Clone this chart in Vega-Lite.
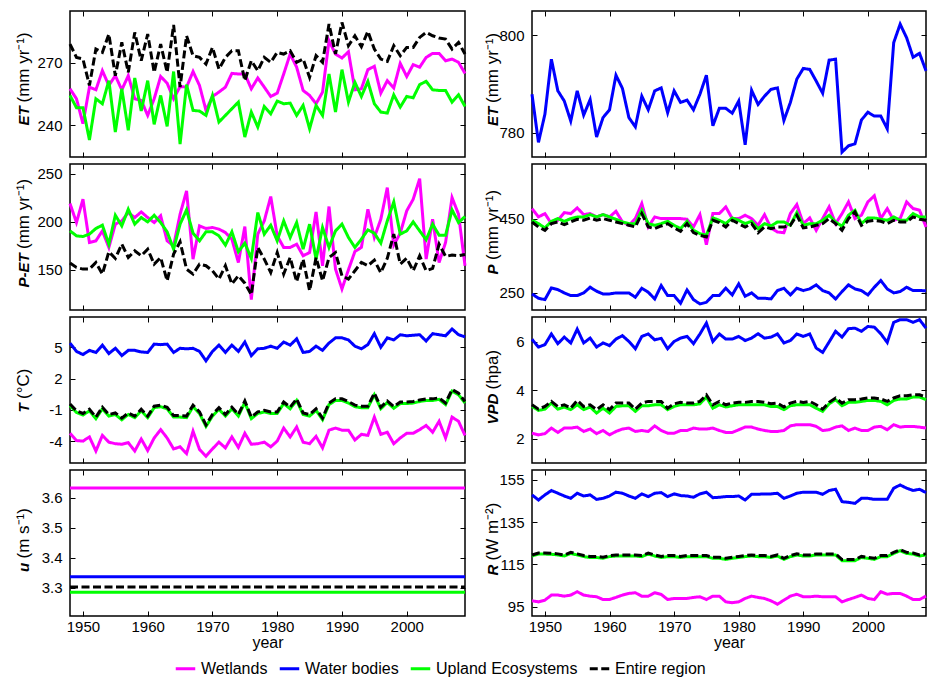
{
"$schema": "https://vega.github.io/schema/vega-lite/v6.json",
"background": "white",
"padding": {"left": 13, "top": 9, "right": 1, "bottom": 0},
"columns": 2,
"spacing": {"row": 7, "column": 67},
"bounds": "flush",
"align": "each",
"config": {
  "font": "Liberation Sans",
  "view": {"stroke": "#000", "strokeWidth": 1.5},
  "line": {"strokeWidth": 3},
  "axis": {"grid": false, "domain": false, "tickSize": -5, "tickColor": "#000", "tickWidth": 1, "labelFontSize": 15, "labelColor": "#000", "labelPadding": 13, "titleFontSize": 17, "titleFontWeight": "normal", "titleColor": "#000", "titleAngle": 270, "titleAlign": "left", "titleBaseline": "alphabetic"},
  "axisX": {"labelPadding": 8, "titleAngle": 0, "titleAlign": "center", "titleBaseline": "top", "titlePadding": 0, "titleFontSize": 16}
},
"datasets": {
"ET": [
{"year":1948,"W":257.6,"U":254.4,"E":279.1,"B":787.9},
{"year":1949,"W":252.8,"U":248.5,"E":272.7,"B":778.0},
{"year":1950,"W":240.8,"U":248.5,"E":271.9,"B":783.8},
{"year":1951,"W":258.4,"U":233.0,"E":259.2,"B":795.1},
{"year":1952,"W":257.1,"U":252.8,"E":276.7,"B":788.6},
{"year":1953,"W":266.3,"U":250.4,"E":275.1,"B":786.5},
{"year":1954,"W":259.2,"U":261.5,"E":283.9,"B":782.4},
{"year":1955,"W":263.9,"U":236.8,"E":263.9,"B":788.6},
{"year":1956,"W":257.1,"U":257.6,"E":279.9,"B":783.6},
{"year":1957,"W":263.9,"U":237.6,"E":265.5,"B":786.8},
{"year":1958,"W":252.8,"U":262.8,"E":284.7,"B":779.1},
{"year":1959,"W":252.0,"U":246.9,"E":271.1,"B":783.1},
{"year":1960,"W":244.8,"U":261.5,"E":283.9,"B":784.7},
{"year":1961,"W":252.8,"U":240.5,"E":265.5,"B":791.8},
{"year":1962,"W":263.5,"U":254.4,"E":279.1,"B":789.1},
{"year":1963,"W":260.3,"U":239.5,"E":265.5,"B":783.1},
{"year":1964,"W":252.8,"U":265.9,"E":288.3,"B":781.2},
{"year":1965,"W":258.7,"U":231.0,"E":258.4,"B":787.5},
{"year":1966,"W":258.4,"U":259.6,"E":283.1,"B":784.7},
{"year":1967,"W":265.9,"U":247.2,"E":273.5,"B":788.6},
{"year":1968,"W":259.2,"U":246.9,"E":272.7,"B":789.2},
{"year":1969,"W":247.2,"U":244.8,"E":269.5,"B":784.1},
{"year":1970,"W":253.9,"U":254.4,"E":277.5,"B":788.6},
{"year":1971,"W":256.0,"U":241.6,"E":267.1,"B":786.2},
{"year":1972,"W":258.4,"U":244.8,"E":272.7,"B":786.7},
{"year":1973,"W":265.0,"U":248.0,"E":275.9,"B":784.7},
{"year":1974,"W":264.7,"U":251.2,"E":275.9,"B":787.9},
{"year":1975,"W":264.7,"U":234.4,"E":261.5,"B":791.8},
{"year":1976,"W":257.6,"U":246.4,"E":271.1,"B":781.4},
{"year":1977,"W":262.8,"U":239.2,"E":266.3,"B":785.0},
{"year":1978,"W":258.4,"U":249.1,"E":272.7,"B":785.0},
{"year":1979,"W":253.9,"U":245.6,"E":270.3,"B":784.0},
{"year":1980,"W":255.5,"U":251.7,"E":275.1,"B":786.5},
{"year":1981,"W":264.7,"U":250.4,"E":274.3,"B":777.5},
{"year":1982,"W":274.3,"U":250.7,"E":275.9,"B":788.7},
{"year":1983,"W":268.0,"U":244.8,"E":270.3,"B":785.8},
{"year":1984,"W":256.8,"U":249.6,"E":271.9,"B":787.5},
{"year":1985,"W":254.4,"U":238.4,"E":263.1,"B":788.9},
{"year":1986,"W":250.4,"U":249.6,"E":273.5,"B":789.2},
{"year":1987,"W":256.0,"U":244.8,"E":270.3,"B":782.5},
{"year":1988,"W":280.7,"U":264.7,"E":288.7,"B":786.2},
{"year":1989,"W":274.3,"U":246.4,"E":274.3,"B":791.0},
{"year":1990,"W":272.4,"U":266.8,"E":289.5,"B":793.2},
{"year":1991,"W":275.4,"U":251.2,"E":278.3,"B":793.0},
{"year":1992,"W":257.1,"U":260.7,"E":283.1,"B":790.6},
{"year":1993,"W":257.6,"U":253.9,"E":277.8,"B":788.1},
{"year":1994,"W":266.8,"U":261.1,"E":285.2,"B":794.9},
{"year":1995,"W":268.4,"U":250.4,"E":276.7,"B":795.1},
{"year":1996,"W":255.5,"U":246.4,"E":271.9,"B":776.0},
{"year":1997,"W":261.5,"U":245.9,"E":270.8,"B":777.3},
{"year":1998,"W":258.0,"U":254.7,"E":278.3,"B":777.7},
{"year":1999,"W":269.8,"U":248.8,"E":273.5,"B":782.6},
{"year":2000,"W":263.5,"U":253.9,"E":277.5,"B":784.2},
{"year":2001,"W":269.2,"U":253.3,"E":277.5,"B":783.4},
{"year":2002,"W":268.0,"U":259.6,"E":282.3,"B":783.4},
{"year":2003,"W":272.7,"U":261.2,"E":284.7,"B":780.8},
{"year":2004,"W":274.6,"U":257.1,"E":283.1,"B":798.5},
{"year":2005,"W":274.6,"U":256.8,"E":282.0,"B":802.3},
{"year":2006,"W":271.1,"U":256.8,"E":281.5,"B":799.5},
{"year":2007,"W":271.9,"U":251.2,"E":276.7,"B":795.5},
{"year":2008,"W":270.3,"U":254.7,"E":279.9,"B":796.3},
{"year":2009,"W":265.0,"U":249.1,"E":274.3,"B":792.7}
],
"PET": [
{"year":1948,"W":219.1,"U":190.6,"E":157.0},
{"year":1949,"W":199.3,"U":185.4,"E":152.4},
{"year":1950,"W":223.6,"U":184.7,"E":150.7},
{"year":1951,"W":178.5,"U":187.2,"E":150.7},
{"year":1952,"W":180.2,"U":193.1,"E":157.6},
{"year":1953,"W":190.6,"U":196.5,"E":145.5},
{"year":1954,"W":173.3,"U":176.7,"E":168.8},
{"year":1955,"W":197.6,"U":206.9,"E":161.8},
{"year":1956,"W":201.0,"U":195.8,"E":176.7},
{"year":1957,"W":209.7,"U":213.2,"E":162.8},
{"year":1958,"W":204.5,"U":197.6,"E":169.8},
{"year":1959,"W":210.4,"U":204.5,"E":164.6},
{"year":1960,"W":204.5,"U":200.0,"E":171.5},
{"year":1961,"W":199.3,"U":206.9,"E":155.9},
{"year":1962,"W":206.3,"U":199.3,"E":162.8},
{"year":1963,"W":180.2,"U":189.6,"E":138.5},
{"year":1964,"W":175.0,"U":171.5,"E":166.3},
{"year":1965,"W":208.0,"U":197.6,"E":179.2},
{"year":1966,"W":232.3,"U":212.5,"E":150.7},
{"year":1967,"W":161.1,"U":188.2,"E":145.5},
{"year":1968,"W":195.8,"U":180.2,"E":155.9},
{"year":1969,"W":193.1,"U":189.6,"E":154.2},
{"year":1970,"W":194.1,"U":189.6,"E":149.0},
{"year":1971,"W":192.4,"U":185.4,"E":140.3},
{"year":1972,"W":188.9,"U":175.7,"E":154.2},
{"year":1973,"W":181.9,"U":189.6,"E":135.1},
{"year":1974,"W":157.6,"U":168.8,"E":143.8},
{"year":1975,"W":195.1,"U":177.8,"E":136.0},
{"year":1976,"W":118.8,"U":161.8,"E":124.0},
{"year":1977,"W":187.2,"U":209.7,"E":173.3},
{"year":1978,"W":201.0,"U":187.2,"E":161.1},
{"year":1979,"W":226.4,"U":196.5,"E":147.2},
{"year":1980,"W":185.4,"U":180.2,"E":168.0},
{"year":1981,"W":173.3,"U":201.0,"E":145.5},
{"year":1982,"W":173.3,"U":183.7,"E":162.8},
{"year":1983,"W":176.7,"U":199.3,"E":137.5},
{"year":1984,"W":164.6,"U":171.5,"E":161.1},
{"year":1985,"W":168.0,"U":197.6,"E":128.1},
{"year":1986,"W":210.4,"U":161.1,"E":162.8},
{"year":1987,"W":154.2,"U":194.1,"E":138.5},
{"year":1988,"W":216.0,"U":173.3,"E":162.8},
{"year":1989,"W":150.7,"U":190.6,"E":168.0},
{"year":1990,"W":130.0,"U":197.6,"E":143.8},
{"year":1991,"W":150.0,"U":183.7,"E":140.3},
{"year":1992,"W":169.1,"U":173.3,"E":149.0},
{"year":1993,"W":173.3,"U":181.9,"E":157.6},
{"year":1994,"W":213.2,"U":191.7,"E":154.2},
{"year":1995,"W":183.7,"U":188.2,"E":160.0},
{"year":1996,"W":202.8,"U":177.8,"E":147.0},
{"year":1997,"W":235.8,"U":201.0,"E":162.0},
{"year":1998,"W":175.7,"U":220.8,"E":187.2},
{"year":1999,"W":188.2,"U":187.2,"E":156.0},
{"year":2000,"W":211.5,"U":190.6,"E":162.0},
{"year":2001,"W":223.6,"U":200.0,"E":149.0},
{"year":2002,"W":245.1,"U":190.6,"E":164.6},
{"year":2003,"W":161.1,"U":181.3,"E":149.0},
{"year":2004,"W":202.8,"U":197.6,"E":151.4},
{"year":2005,"W":157.6,"U":186.1,"E":176.7},
{"year":2006,"W":178.5,"U":186.1,"E":163.9},
{"year":2007,"W":225.3,"U":212.5,"E":165.3},
{"year":2008,"W":208.0,"U":199.3,"E":164.6},
{"year":2009,"W":154.2,"U":205.6,"E":166.0}
],
"P": [
{"year":1948,"W":477.0,"B":247.3,"U":445.5,"E":441.0},
{"year":1949,"W":454.5,"B":235.6,"U":436.5,"E":427.5},
{"year":1950,"W":463.5,"B":232.0,"U":424.8,"E":418.5},
{"year":1951,"W":436.5,"B":263.5,"U":442.8,"E":436.5},
{"year":1952,"W":445.5,"B":259.0,"U":450.0,"E":441.0},
{"year":1953,"W":466.2,"B":250.0,"U":442.8,"E":433.8},
{"year":1954,"W":463.5,"B":242.8,"U":450.0,"E":441.0},
{"year":1955,"W":478.8,"B":242.8,"U":454.5,"E":448.2},
{"year":1956,"W":460.8,"B":250.0,"U":454.5,"E":445.5},
{"year":1957,"W":463.5,"B":265.3,"U":460.8,"E":451.8},
{"year":1958,"W":454.5,"B":254.5,"U":454.5,"E":445.5},
{"year":1959,"W":460.8,"B":247.3,"U":460.8,"E":450.0},
{"year":1960,"W":454.5,"B":247.3,"U":454.5,"E":445.5},
{"year":1961,"W":469.8,"B":250.0,"U":448.2,"E":441.0},
{"year":1962,"W":441.0,"B":250.0,"U":441.0,"E":436.5},
{"year":1963,"W":432.0,"B":250.0,"U":436.5,"E":432.0},
{"year":1964,"W":450.0,"B":238.3,"U":436.5,"E":427.5},
{"year":1965,"W":490.5,"B":262.6,"U":472.5,"E":463.5},
{"year":1966,"W":427.5,"B":251.8,"U":436.5,"E":427.5},
{"year":1967,"W":454.5,"B":233.8,"U":432.0,"E":423.0},
{"year":1968,"W":450.0,"B":269.8,"U":436.5,"E":430.2},
{"year":1969,"W":450.0,"B":242.8,"U":442.8,"E":436.5},
{"year":1970,"W":450.0,"B":242.8,"U":432.0,"E":424.8},
{"year":1971,"W":450.0,"B":222.1,"U":423.0,"E":415.8},
{"year":1972,"W":448.2,"B":258.1,"U":442.8,"E":436.5},
{"year":1973,"W":427.5,"B":232.0,"U":418.5,"E":412.2},
{"year":1974,"W":460.8,"B":220.3,"U":409.5,"E":405.0},
{"year":1975,"W":379.7,"B":224.8,"U":405.0,"E":400.5},
{"year":1976,"W":463.5,"B":242.8,"U":451.8,"E":445.5},
{"year":1977,"W":463.5,"B":242.8,"U":445.5,"E":439.2},
{"year":1978,"W":481.5,"B":262.6,"U":436.5,"E":427.5},
{"year":1979,"W":450.0,"B":244.6,"U":451.8,"E":445.5},
{"year":1980,"W":450.0,"B":274.3,"U":445.5,"E":436.5},
{"year":1981,"W":459.0,"B":241.0,"U":436.5,"E":427.5},
{"year":1982,"W":450.0,"B":250.0,"U":442.8,"E":436.5},
{"year":1983,"W":432.0,"B":235.6,"U":423.0,"E":412.2},
{"year":1984,"W":460.8,"B":235.6,"U":436.5,"E":427.5},
{"year":1985,"W":424.8,"B":233.8,"U":430.2,"E":423.0},
{"year":1986,"W":414.0,"B":256.3,"U":441.0,"E":427.5},
{"year":1987,"W":412.0,"B":262.6,"U":441.0,"E":427.5},
{"year":1988,"W":463.5,"B":244.6,"U":432.0,"E":432.0},
{"year":1989,"W":487.8,"B":262.6,"U":466.2,"E":459.0},
{"year":1990,"W":436.5,"B":256.3,"U":432.0,"E":424.8},
{"year":1991,"W":451.8,"B":260.8,"U":436.5,"E":427.5},
{"year":1992,"W":418.5,"B":271.6,"U":436.5,"E":432.0},
{"year":1993,"W":450.0,"B":256.3,"U":445.5,"E":436.5},
{"year":1994,"W":481.5,"B":250.0,"U":459.0,"E":450.0},
{"year":1995,"W":436.5,"B":233.8,"U":441.0,"E":436.5},
{"year":1996,"W":463.5,"B":253.6,"U":429.3,"E":418.5},
{"year":1997,"W":495.0,"B":271.6,"U":459.0,"E":450.0},
{"year":1998,"W":450.0,"B":260.8,"U":472.5,"E":468.0},
{"year":1999,"W":459.0,"B":256.3,"U":436.5,"E":432.0},
{"year":2000,"W":495.0,"B":244.6,"U":451.8,"E":442.8},
{"year":2001,"W":511.3,"B":265.3,"U":451.8,"E":445.5},
{"year":2002,"W":450.0,"B":283.3,"U":448.2,"E":442.8},
{"year":2003,"W":477.0,"B":260.8,"U":445.5,"E":436.5},
{"year":2004,"W":445.5,"B":250.0,"U":454.5,"E":445.5},
{"year":2005,"W":450.0,"B":253.6,"U":445.5,"E":441.0},
{"year":2006,"W":495.0,"B":265.3,"U":445.5,"E":441.0},
{"year":2007,"W":477.0,"B":256.3,"U":463.5,"E":454.5},
{"year":2008,"W":472.5,"B":256.3,"U":454.5,"E":448.2},
{"year":2009,"W":427.5,"B":256.0,"U":454.5,"E":445.5}
],
"T": [
{"year":1948,"W":-3.25,"B":5.4,"U":-0.6,"E":-0.45},
{"year":1949,"W":-3.95,"B":4.6,"U":-1.25,"E":-1.1},
{"year":1950,"W":-4.0,"B":4.3,"U":-1.5,"E":-1.35},
{"year":1951,"W":-3.6,"B":4.7,"U":-1.1,"E":-0.95},
{"year":1952,"W":-4.95,"B":4.5,"U":-1.85,"E":-1.7},
{"year":1953,"W":-3.45,"B":5.2,"U":-0.9,"E":-0.75},
{"year":1954,"W":-4.1,"B":4.4,"U":-1.6,"E":-1.45},
{"year":1955,"W":-4.25,"B":4.9,"U":-1.45,"E":-1.3},
{"year":1956,"W":-4.3,"B":4.2,"U":-1.95,"E":-1.8},
{"year":1957,"W":-4.15,"B":4.7,"U":-1.45,"E":-1.3},
{"year":1958,"W":-4.95,"B":4.7,"U":-1.75,"E":-1.6},
{"year":1959,"W":-3.8,"B":4.55,"U":-1.1,"E":-0.95},
{"year":1960,"W":-4.9,"B":4.5,"U":-1.75,"E":-1.6},
{"year":1961,"W":-3.7,"B":5.3,"U":-0.8,"E":-0.65},
{"year":1962,"W":-2.9,"B":5.25,"U":-0.7,"E":-0.55},
{"year":1963,"W":-3.7,"B":5.3,"U":-0.9,"E":-0.75},
{"year":1964,"W":-4.75,"B":4.5,"U":-1.7,"E":-1.55},
{"year":1965,"W":-4.55,"B":4.9,"U":-1.7,"E":-1.55},
{"year":1966,"W":-5.2,"B":4.85,"U":-1.75,"E":-1.6},
{"year":1967,"W":-3.05,"B":4.9,"U":-0.7,"E":-0.55},
{"year":1968,"W":-4.8,"B":4.6,"U":-1.35,"E":-1.2},
{"year":1969,"W":-5.45,"B":3.7,"U":-2.6,"E":-2.45},
{"year":1970,"W":-4.75,"B":4.6,"U":-1.6,"E":-1.45},
{"year":1971,"W":-4.1,"B":5.2,"U":-0.95,"E":-0.8},
{"year":1972,"W":-4.65,"B":4.5,"U":-1.6,"E":-1.45},
{"year":1973,"W":-3.6,"B":5.2,"U":-0.9,"E":-0.75},
{"year":1974,"W":-4.6,"B":4.6,"U":-1.6,"E":-1.45},
{"year":1975,"W":-3.25,"B":5.5,"U":-0.3,"E":-0.15},
{"year":1976,"W":-4.3,"B":4.2,"U":-1.85,"E":-1.7},
{"year":1977,"W":-4.25,"B":4.85,"U":-1.35,"E":-1.2},
{"year":1978,"W":-4.1,"B":4.9,"U":-1.2,"E":-1.05},
{"year":1979,"W":-4.55,"B":5.1,"U":-1.35,"E":-1.2},
{"year":1980,"W":-4.0,"B":4.9,"U":-1.35,"E":-1.2},
{"year":1981,"W":-2.75,"B":5.5,"U":-0.4,"E":-0.25},
{"year":1982,"W":-3.6,"B":5.2,"U":-0.9,"E":-0.75},
{"year":1983,"W":-2.65,"B":5.8,"U":-0.1,"E":0.05},
{"year":1984,"W":-4.1,"B":4.5,"U":-1.45,"E":-1.3},
{"year":1985,"W":-4.25,"B":4.6,"U":-1.6,"E":-1.45},
{"year":1986,"W":-3.55,"B":5.1,"U":-1.05,"E":-0.9},
{"year":1987,"W":-4.65,"B":4.7,"U":-1.95,"E":-1.8},
{"year":1988,"W":-2.95,"B":5.4,"U":-0.5,"E":-0.35},
{"year":1989,"W":-2.75,"B":5.9,"U":-0.1,"E":0.05},
{"year":1990,"W":-2.95,"B":5.9,"U":-0.1,"E":0.05},
{"year":1991,"W":-2.95,"B":5.7,"U":-0.35,"E":-0.2},
{"year":1992,"W":-3.9,"B":5.1,"U":-0.7,"E":-0.55},
{"year":1993,"W":-3.35,"B":4.85,"U":-0.8,"E":-0.65},
{"year":1994,"W":-3.45,"B":5.25,"U":-0.8,"E":-0.65},
{"year":1995,"W":-1.7,"B":6.3,"U":0.45,"E":0.6},
{"year":1996,"W":-3.35,"B":5.0,"U":-0.9,"E":-0.75},
{"year":1997,"W":-3.15,"B":5.9,"U":-0.3,"E":-0.15},
{"year":1998,"W":-4.25,"B":5.7,"U":-0.85,"E":-0.7},
{"year":1999,"W":-3.7,"B":6.2,"U":-0.4,"E":-0.25},
{"year":2000,"W":-3.25,"B":6.1,"U":-0.4,"E":-0.25},
{"year":2001,"W":-3.25,"B":6.15,"U":-0.35,"E":-0.2},
{"year":2002,"W":-2.9,"B":6.2,"U":-0.2,"E":-0.05},
{"year":2003,"W":-2.5,"B":5.6,"U":-0.1,"E":0.05},
{"year":2004,"W":-3.15,"B":6.3,"U":-0.1,"E":0.05},
{"year":2005,"W":-2.1,"B":6.2,"U":0.0,"E":0.15},
{"year":2006,"W":-3.7,"B":6.1,"U":-0.5,"E":-0.35},
{"year":2007,"W":-1.7,"B":6.75,"U":0.8,"E":0.95},
{"year":2008,"W":-2.1,"B":6.2,"U":0.45,"E":0.6},
{"year":2009,"W":-3.45,"B":6.0,"U":-0.35,"E":-0.2}
],
"VPD": [
{"year":1948,"W":2.23,"B":6.1,"U":3.33,"E":3.4},
{"year":1949,"W":2.16,"B":5.78,"U":3.17,"E":3.22},
{"year":1950,"W":2.21,"B":5.88,"U":3.22,"E":3.33},
{"year":1951,"W":2.44,"B":6.32,"U":3.47,"E":3.54},
{"year":1952,"W":2.26,"B":5.92,"U":3.22,"E":3.33},
{"year":1953,"W":2.44,"B":6.19,"U":3.31,"E":3.4},
{"year":1954,"W":2.44,"B":5.95,"U":3.2,"E":3.26},
{"year":1955,"W":2.48,"B":6.52,"U":3.4,"E":3.58},
{"year":1956,"W":2.3,"B":5.95,"U":3.2,"E":3.33},
{"year":1957,"W":2.4,"B":6.15,"U":3.31,"E":3.4},
{"year":1958,"W":2.21,"B":5.78,"U":3.06,"E":3.2},
{"year":1959,"W":2.34,"B":5.95,"U":3.26,"E":3.4},
{"year":1960,"W":2.16,"B":5.84,"U":3.06,"E":3.2},
{"year":1961,"W":2.3,"B":6.11,"U":3.33,"E":3.47},
{"year":1962,"W":2.4,"B":6.25,"U":3.36,"E":3.47},
{"year":1963,"W":2.44,"B":6.01,"U":3.36,"E":3.47},
{"year":1964,"W":2.3,"B":5.71,"U":3.13,"E":3.22},
{"year":1965,"W":2.34,"B":6.22,"U":3.36,"E":3.47},
{"year":1966,"W":2.3,"B":6.32,"U":3.36,"E":3.54},
{"year":1967,"W":2.53,"B":6.08,"U":3.4,"E":3.54},
{"year":1968,"W":2.34,"B":6.14,"U":3.4,"E":3.54},
{"year":1969,"W":2.23,"B":5.71,"U":3.2,"E":3.26},
{"year":1970,"W":2.23,"B":6.01,"U":3.33,"E":3.44},
{"year":1971,"W":2.34,"B":6.15,"U":3.4,"E":3.5},
{"year":1972,"W":2.34,"B":6.22,"U":3.4,"E":3.47},
{"year":1973,"W":2.44,"B":5.92,"U":3.4,"E":3.47},
{"year":1974,"W":2.4,"B":6.32,"U":3.44,"E":3.54},
{"year":1975,"W":2.4,"B":6.77,"U":3.72,"E":3.81},
{"year":1976,"W":2.44,"B":6.01,"U":3.26,"E":3.4},
{"year":1977,"W":2.34,"B":6.32,"U":3.4,"E":3.54},
{"year":1978,"W":2.26,"B":6.11,"U":3.31,"E":3.4},
{"year":1979,"W":2.26,"B":6.11,"U":3.36,"E":3.47},
{"year":1980,"W":2.37,"B":6.22,"U":3.4,"E":3.5},
{"year":1981,"W":2.48,"B":6.05,"U":3.4,"E":3.5},
{"year":1982,"W":2.48,"B":6.15,"U":3.4,"E":3.54},
{"year":1983,"W":2.4,"B":6.33,"U":3.4,"E":3.54},
{"year":1984,"W":2.34,"B":6.15,"U":3.4,"E":3.5},
{"year":1985,"W":2.3,"B":6.19,"U":3.33,"E":3.44},
{"year":1986,"W":2.3,"B":6.32,"U":3.33,"E":3.47},
{"year":1987,"W":2.34,"B":5.95,"U":3.2,"E":3.31},
{"year":1988,"W":2.53,"B":6.05,"U":3.36,"E":3.47},
{"year":1989,"W":2.58,"B":6.32,"U":3.4,"E":3.54},
{"year":1990,"W":2.58,"B":6.22,"U":3.4,"E":3.5},
{"year":1991,"W":2.58,"B":6.32,"U":3.4,"E":3.54},
{"year":1992,"W":2.51,"B":5.74,"U":3.26,"E":3.4},
{"year":1993,"W":2.34,"B":5.56,"U":3.13,"E":3.22},
{"year":1994,"W":2.37,"B":5.99,"U":3.44,"E":3.5},
{"year":1995,"W":2.48,"B":6.43,"U":3.61,"E":3.68},
{"year":1996,"W":2.53,"B":6.19,"U":3.36,"E":3.47},
{"year":1997,"W":2.34,"B":6.54,"U":3.5,"E":3.61},
{"year":1998,"W":2.44,"B":6.56,"U":3.5,"E":3.61},
{"year":1999,"W":2.34,"B":6.43,"U":3.54,"E":3.64},
{"year":2000,"W":2.34,"B":6.63,"U":3.58,"E":3.68},
{"year":2001,"W":2.48,"B":6.6,"U":3.58,"E":3.68},
{"year":2002,"W":2.51,"B":6.33,"U":3.54,"E":3.64},
{"year":2003,"W":2.37,"B":5.97,"U":3.4,"E":3.54},
{"year":2004,"W":2.58,"B":6.8,"U":3.58,"E":3.68},
{"year":2005,"W":2.48,"B":6.91,"U":3.64,"E":3.77},
{"year":2006,"W":2.51,"B":6.91,"U":3.64,"E":3.77},
{"year":2007,"W":2.51,"B":6.8,"U":3.72,"E":3.81},
{"year":2008,"W":2.48,"B":6.91,"U":3.72,"E":3.81},
{"year":2009,"W":2.44,"B":6.56,"U":3.61,"E":3.72}
],
"u": [
{"year":1948,"W":3.633,"B":3.336,"U":3.284,"E":3.302},
{"year":1949,"W":3.633,"B":3.336,"U":3.284,"E":3.302},
{"year":1950,"W":3.633,"B":3.336,"U":3.284,"E":3.302},
{"year":1951,"W":3.633,"B":3.336,"U":3.284,"E":3.302},
{"year":1952,"W":3.633,"B":3.336,"U":3.284,"E":3.302},
{"year":1953,"W":3.633,"B":3.336,"U":3.284,"E":3.302},
{"year":1954,"W":3.633,"B":3.336,"U":3.284,"E":3.302},
{"year":1955,"W":3.633,"B":3.336,"U":3.284,"E":3.302},
{"year":1956,"W":3.633,"B":3.336,"U":3.284,"E":3.302},
{"year":1957,"W":3.633,"B":3.336,"U":3.284,"E":3.302},
{"year":1958,"W":3.633,"B":3.336,"U":3.284,"E":3.302},
{"year":1959,"W":3.633,"B":3.336,"U":3.284,"E":3.302},
{"year":1960,"W":3.633,"B":3.336,"U":3.284,"E":3.302},
{"year":1961,"W":3.633,"B":3.336,"U":3.284,"E":3.302},
{"year":1962,"W":3.633,"B":3.336,"U":3.284,"E":3.302},
{"year":1963,"W":3.633,"B":3.336,"U":3.284,"E":3.302},
{"year":1964,"W":3.633,"B":3.336,"U":3.284,"E":3.302},
{"year":1965,"W":3.633,"B":3.336,"U":3.284,"E":3.302},
{"year":1966,"W":3.633,"B":3.336,"U":3.284,"E":3.302},
{"year":1967,"W":3.633,"B":3.336,"U":3.284,"E":3.302},
{"year":1968,"W":3.633,"B":3.336,"U":3.284,"E":3.302},
{"year":1969,"W":3.633,"B":3.336,"U":3.284,"E":3.302},
{"year":1970,"W":3.633,"B":3.336,"U":3.284,"E":3.302},
{"year":1971,"W":3.633,"B":3.336,"U":3.284,"E":3.302},
{"year":1972,"W":3.633,"B":3.336,"U":3.284,"E":3.302},
{"year":1973,"W":3.633,"B":3.336,"U":3.284,"E":3.302},
{"year":1974,"W":3.633,"B":3.336,"U":3.284,"E":3.302},
{"year":1975,"W":3.633,"B":3.336,"U":3.284,"E":3.302},
{"year":1976,"W":3.633,"B":3.336,"U":3.284,"E":3.302},
{"year":1977,"W":3.633,"B":3.336,"U":3.284,"E":3.302},
{"year":1978,"W":3.633,"B":3.336,"U":3.284,"E":3.302},
{"year":1979,"W":3.633,"B":3.336,"U":3.284,"E":3.302},
{"year":1980,"W":3.633,"B":3.336,"U":3.284,"E":3.302},
{"year":1981,"W":3.633,"B":3.336,"U":3.284,"E":3.302},
{"year":1982,"W":3.633,"B":3.336,"U":3.284,"E":3.302},
{"year":1983,"W":3.633,"B":3.336,"U":3.284,"E":3.302},
{"year":1984,"W":3.633,"B":3.336,"U":3.284,"E":3.302},
{"year":1985,"W":3.633,"B":3.336,"U":3.284,"E":3.302},
{"year":1986,"W":3.633,"B":3.336,"U":3.284,"E":3.302},
{"year":1987,"W":3.633,"B":3.336,"U":3.284,"E":3.302},
{"year":1988,"W":3.633,"B":3.336,"U":3.284,"E":3.302},
{"year":1989,"W":3.633,"B":3.336,"U":3.284,"E":3.302},
{"year":1990,"W":3.633,"B":3.336,"U":3.284,"E":3.302},
{"year":1991,"W":3.633,"B":3.336,"U":3.284,"E":3.302},
{"year":1992,"W":3.633,"B":3.336,"U":3.284,"E":3.302},
{"year":1993,"W":3.633,"B":3.336,"U":3.284,"E":3.302},
{"year":1994,"W":3.633,"B":3.336,"U":3.284,"E":3.302},
{"year":1995,"W":3.633,"B":3.336,"U":3.284,"E":3.302},
{"year":1996,"W":3.633,"B":3.336,"U":3.284,"E":3.302},
{"year":1997,"W":3.633,"B":3.336,"U":3.284,"E":3.302},
{"year":1998,"W":3.633,"B":3.336,"U":3.284,"E":3.302},
{"year":1999,"W":3.633,"B":3.336,"U":3.284,"E":3.302},
{"year":2000,"W":3.633,"B":3.336,"U":3.284,"E":3.302},
{"year":2001,"W":3.633,"B":3.336,"U":3.284,"E":3.302},
{"year":2002,"W":3.633,"B":3.336,"U":3.284,"E":3.302},
{"year":2003,"W":3.633,"B":3.336,"U":3.284,"E":3.302},
{"year":2004,"W":3.633,"B":3.336,"U":3.284,"E":3.302},
{"year":2005,"W":3.633,"B":3.336,"U":3.284,"E":3.302},
{"year":2006,"W":3.633,"B":3.336,"U":3.284,"E":3.302},
{"year":2007,"W":3.633,"B":3.336,"U":3.284,"E":3.302},
{"year":2008,"W":3.633,"B":3.336,"U":3.284,"E":3.302},
{"year":2009,"W":3.633,"B":3.336,"U":3.284,"E":3.302}
],
"R": [
{"year":1948,"W":97.8,"B":147.9,"U":119.0,"E":119.5},
{"year":1949,"W":97.3,"B":145.5,"U":119.9,"E":120.4},
{"year":1950,"W":98.1,"B":147.9,"U":119.9,"E":120.4},
{"year":1951,"W":100.5,"B":150.0,"U":119.8,"E":120.3},
{"year":1952,"W":100.5,"B":148.7,"U":119.5,"E":120.0},
{"year":1953,"W":100.0,"B":147.4,"U":119.0,"E":119.5},
{"year":1954,"W":100.5,"B":146.3,"U":120.2,"E":120.7},
{"year":1955,"W":102.1,"B":148.7,"U":119.5,"E":120.0},
{"year":1956,"W":100.5,"B":147.4,"U":118.7,"E":119.2},
{"year":1957,"W":100.0,"B":147.9,"U":118.3,"E":118.8},
{"year":1958,"W":99.7,"B":145.8,"U":118.3,"E":118.8},
{"year":1959,"W":98.4,"B":146.3,"U":117.9,"E":118.4},
{"year":1960,"W":98.4,"B":147.4,"U":118.7,"E":119.2},
{"year":1961,"W":99.4,"B":149.2,"U":119.0,"E":119.5},
{"year":1962,"W":100.5,"B":148.7,"U":119.0,"E":119.5},
{"year":1963,"W":101.3,"B":147.4,"U":119.0,"E":119.5},
{"year":1964,"W":101.6,"B":146.3,"U":119.0,"E":119.5},
{"year":1965,"W":100.0,"B":148.4,"U":118.7,"E":119.2},
{"year":1966,"W":100.0,"B":147.1,"U":119.9,"E":120.4},
{"year":1967,"W":101.6,"B":148.7,"U":119.0,"E":119.5},
{"year":1968,"W":100.8,"B":149.0,"U":118.3,"E":118.8},
{"year":1969,"W":98.4,"B":147.1,"U":118.7,"E":119.2},
{"year":1970,"W":98.9,"B":148.4,"U":118.7,"E":119.2},
{"year":1971,"W":98.9,"B":147.6,"U":118.3,"E":118.8},
{"year":1972,"W":98.9,"B":147.4,"U":118.7,"E":119.2},
{"year":1973,"W":99.4,"B":146.8,"U":118.7,"E":119.2},
{"year":1974,"W":99.7,"B":148.4,"U":118.7,"E":119.2},
{"year":1975,"W":98.4,"B":149.2,"U":118.7,"E":119.2},
{"year":1976,"W":100.0,"B":146.6,"U":117.9,"E":118.4},
{"year":1977,"W":100.0,"B":146.8,"U":117.9,"E":118.4},
{"year":1978,"W":97.3,"B":147.1,"U":117.4,"E":117.9},
{"year":1979,"W":96.9,"B":147.1,"U":117.9,"E":118.4},
{"year":1980,"W":97.3,"B":147.4,"U":118.3,"E":118.8},
{"year":1981,"W":98.9,"B":145.5,"U":118.7,"E":119.2},
{"year":1982,"W":100.0,"B":148.2,"U":119.0,"E":119.5},
{"year":1983,"W":99.4,"B":148.2,"U":118.7,"E":119.2},
{"year":1984,"W":98.9,"B":148.4,"U":118.7,"E":119.2},
{"year":1985,"W":97.8,"B":148.4,"U":118.3,"E":118.8},
{"year":1986,"W":96.2,"B":148.7,"U":119.0,"E":119.5},
{"year":1987,"W":98.1,"B":146.3,"U":117.4,"E":117.9},
{"year":1988,"W":100.0,"B":147.4,"U":118.7,"E":119.2},
{"year":1989,"W":100.9,"B":148.7,"U":119.5,"E":120.0},
{"year":1990,"W":99.7,"B":149.2,"U":119.0,"E":119.5},
{"year":1991,"W":99.7,"B":149.2,"U":119.0,"E":119.5},
{"year":1992,"W":100.0,"B":149.2,"U":119.5,"E":120.0},
{"year":1993,"W":99.7,"B":148.2,"U":119.5,"E":120.0},
{"year":1994,"W":99.7,"B":150.0,"U":119.5,"E":120.0},
{"year":1995,"W":99.7,"B":150.6,"U":119.5,"E":120.0},
{"year":1996,"W":97.3,"B":144.7,"U":116.8,"E":117.3},
{"year":1997,"W":98.4,"B":144.4,"U":116.8,"E":117.3},
{"year":1998,"W":99.4,"B":143.9,"U":116.8,"E":117.3},
{"year":1999,"W":100.5,"B":146.3,"U":118.3,"E":118.8},
{"year":2000,"W":98.9,"B":146.3,"U":117.9,"E":118.4},
{"year":2001,"W":98.4,"B":145.8,"U":117.4,"E":117.9},
{"year":2002,"W":102.1,"B":145.8,"U":118.7,"E":119.2},
{"year":2003,"W":100.9,"B":145.8,"U":118.7,"E":119.2},
{"year":2004,"W":101.3,"B":151.1,"U":120.2,"E":120.7},
{"year":2005,"W":101.3,"B":152.6,"U":121.5,"E":122.0},
{"year":2006,"W":100.0,"B":151.1,"U":120.2,"E":120.7},
{"year":2007,"W":98.4,"B":150.0,"U":119.9,"E":120.4},
{"year":2008,"W":98.4,"B":150.6,"U":119.0,"E":119.5},
{"year":2009,"W":100.0,"B":149.0,"U":119.5,"E":120.0}
]
},
"concat": [
{
 "width": 395, "height": 146,
 "data": {"name": "ET"},
 "transform": [{"fold": ["W","U","E"], "as": ["series","v"]}],
 "layer": [
  {"mark": {"type": "line", "strokeWidth": 3},
   "encoding": {
    "x": {"field": "year", "type": "quantitative", "scale": {"domain": [1948, 2009], "nice": false, "zero": false}, "axis": {"values": [1950,1960,1970,1980,1990,2000], "labels": false, "title": null}},
    "y": {"field": "v", "type": "quantitative", "scale": {"domain": [224.8, 295], "nice": false, "zero": false}, "axis": {"values": [240, 270], "title": "(mm yr⁻¹)", "titleX": -42, "titleY": 91}},
    "color": {"field": "series", "type": "nominal", "scale": {"domain": ["W","B","U","E"], "range": ["#ff00ff","#0000ff","#00ff00","#000000"]}, "legend": {"title": null, "orient": "none", "legendX": 104, "legendY": 646, "direction": "horizontal", "columns": 4, "symbolType": "stroke", "symbolSize": 380, "symbolStrokeWidth": 3, "labelFontSize": 16, "labelColor": "#000", "labelOffset": 4, "columnPadding": 5, "labelLimit": 300, "labelExpr": "datum.label == 'W' ? 'Wetlands' : datum.label == 'B' ? 'Water bodies' : datum.label == 'U' ? 'Upland Ecosystems' : 'Entire region'"}},
    "strokeDash": {"field": "series", "type": "nominal", "scale": {"domain": ["W","B","U","E"], "range": [[1,0],[1,0],[1,0],[8,3.5]]}, "legend": {"title": null, "orient": "none", "legendX": 104, "legendY": 646, "direction": "horizontal", "columns": 4, "symbolType": "stroke", "symbolSize": 380, "symbolStrokeWidth": 3, "labelFontSize": 16, "labelColor": "#000", "labelOffset": 4, "columnPadding": 5, "labelLimit": 300, "labelExpr": "datum.label == 'W' ? 'Wetlands' : datum.label == 'B' ? 'Water bodies' : datum.label == 'U' ? 'Upland Ecosystems' : 'Entire region'"}}
   }},
  {"mark": {"type": "line", "opacity": 0},
   "encoding": {
    "x": {"field": "year", "type": "quantitative", "scale": {"domain": [1948, 2009], "nice": false, "zero": false}, "axis": {"orient": "top", "values": [1950,1960,1970,1980,1990,2000], "labels": false, "title": null}},
    "y": {"field": "v", "type": "quantitative", "scale": {"domain": [224.8, 295], "nice": false, "zero": false}, "axis": {"orient": "right", "values": [240, 270], "labels": false, "title": null}}
   }},
  {"mark": {"type": "line", "opacity": 0},
   "encoding": {
    "x": {"field": "year", "type": "quantitative", "scale": {"domain": [1948, 2009], "nice": false, "zero": false}, "axis": null},
    "y": {"field": "v", "type": "quantitative", "scale": {"domain": [224.8, 295], "nice": false, "zero": false}, "axis": {"orient": "left", "labels": false, "ticks": false, "title": "ET", "titleFontSize": 15, "titleFontWeight": "bold", "titleFontStyle": "italic", "titleX": -42, "titleY": 114}}
   }}
 ],
 "resolve": {"axis": {"x": "independent", "y": "independent"}}
},
{
 "width": 394, "height": 146,
 "data": {"name": "ET"},
 "transform": [{"fold": ["B"], "as": ["series","v"]}],
 "layer": [
  {"mark": {"type": "line", "strokeWidth": 3},
   "encoding": {
    "x": {"field": "year", "type": "quantitative", "scale": {"domain": [1948, 2009], "nice": false, "zero": false}, "axis": {"values": [1950,1960,1970,1980,1990,2000], "labels": false, "title": null}},
    "y": {"field": "v", "type": "quantitative", "scale": {"domain": [775, 805], "nice": false, "zero": false}, "axis": {"values": [780, 800], "title": "(mm yr⁻¹)", "titleX": -35, "titleY": 91.5}},
    "color": {"field": "series", "type": "nominal", "scale": {"domain": ["W","B","U","E"], "range": ["#ff00ff","#0000ff","#00ff00","#000000"]}},
    "strokeDash": {"field": "series", "type": "nominal", "scale": {"domain": ["W","B","U","E"], "range": [[1,0],[1,0],[1,0],[8,3.5]]}}
   }},
  {"mark": {"type": "line", "opacity": 0},
   "encoding": {
    "x": {"field": "year", "type": "quantitative", "scale": {"domain": [1948, 2009], "nice": false, "zero": false}, "axis": {"orient": "top", "values": [1950,1960,1970,1980,1990,2000], "labels": false, "title": null}},
    "y": {"field": "v", "type": "quantitative", "scale": {"domain": [775, 805], "nice": false, "zero": false}, "axis": {"orient": "right", "values": [780, 800], "labels": false, "title": null}}
   }},
  {"mark": {"type": "line", "opacity": 0},
   "encoding": {
    "x": {"field": "year", "type": "quantitative", "scale": {"domain": [1948, 2009], "nice": false, "zero": false}, "axis": null},
    "y": {"field": "v", "type": "quantitative", "scale": {"domain": [775, 805], "nice": false, "zero": false}, "axis": {"orient": "left", "labels": false, "ticks": false, "title": "ET", "titleFontSize": 15, "titleFontWeight": "bold", "titleFontStyle": "italic", "titleX": -35, "titleY": 114.5}}
   }}
 ],
 "resolve": {"axis": {"x": "independent", "y": "independent"}}
},
{
 "width": 395, "height": 146,
 "data": {"name": "PET"},
 "transform": [{"fold": ["W","U","E"], "as": ["series","v"]}],
 "layer": [
  {"mark": {"type": "line", "strokeWidth": 3},
   "encoding": {
    "x": {"field": "year", "type": "quantitative", "scale": {"domain": [1948, 2009], "nice": false, "zero": false}, "axis": {"values": [1950,1960,1970,1980,1990,2000], "labels": false, "title": null}},
    "y": {"field": "v", "type": "quantitative", "scale": {"domain": [108, 260.4], "nice": false, "zero": false}, "axis": {"values": [150, 200, 250], "title": "(mm yr⁻¹)", "titleX": -42, "titleY": 84.5}},
    "color": {"field": "series", "type": "nominal", "scale": {"domain": ["W","B","U","E"], "range": ["#ff00ff","#0000ff","#00ff00","#000000"]}},
    "strokeDash": {"field": "series", "type": "nominal", "scale": {"domain": ["W","B","U","E"], "range": [[1,0],[1,0],[1,0],[8,3.5]]}}
   }},
  {"mark": {"type": "line", "opacity": 0},
   "encoding": {
    "x": {"field": "year", "type": "quantitative", "scale": {"domain": [1948, 2009], "nice": false, "zero": false}, "axis": {"orient": "top", "values": [1950,1960,1970,1980,1990,2000], "labels": false, "title": null}},
    "y": {"field": "v", "type": "quantitative", "scale": {"domain": [108, 260.4], "nice": false, "zero": false}, "axis": {"orient": "right", "values": [150, 200, 250], "labels": false, "title": null}}
   }},
  {"mark": {"type": "line", "opacity": 0},
   "encoding": {
    "x": {"field": "year", "type": "quantitative", "scale": {"domain": [1948, 2009], "nice": false, "zero": false}, "axis": null},
    "y": {"field": "v", "type": "quantitative", "scale": {"domain": [108, 260.4], "nice": false, "zero": false}, "axis": {"orient": "left", "labels": false, "ticks": false, "title": "P-ET", "titleFontSize": 15, "titleFontWeight": "bold", "titleFontStyle": "italic", "titleX": -42, "titleY": 123}}
   }}
 ],
 "resolve": {"axis": {"x": "independent", "y": "independent"}}
},
{
 "width": 394, "height": 146,
 "data": {"name": "P"},
 "transform": [{"fold": ["W","B","U","E"], "as": ["series","v"]}],
 "layer": [
  {"mark": {"type": "line", "strokeWidth": 3},
   "encoding": {
    "x": {"field": "year", "type": "quantitative", "scale": {"domain": [1948, 2009], "nice": false, "zero": false}, "axis": {"values": [1950,1960,1970,1980,1990,2000], "labels": false, "title": null}},
    "y": {"field": "v", "type": "quantitative", "scale": {"domain": [204, 597], "nice": false, "zero": false}, "axis": {"values": [250, 450], "title": "(mm yr⁻¹)", "titleX": -35, "titleY": 95.5}},
    "color": {"field": "series", "type": "nominal", "scale": {"domain": ["W","B","U","E"], "range": ["#ff00ff","#0000ff","#00ff00","#000000"]}},
    "strokeDash": {"field": "series", "type": "nominal", "scale": {"domain": ["W","B","U","E"], "range": [[1,0],[1,0],[1,0],[8,3.5]]}}
   }},
  {"mark": {"type": "line", "opacity": 0},
   "encoding": {
    "x": {"field": "year", "type": "quantitative", "scale": {"domain": [1948, 2009], "nice": false, "zero": false}, "axis": {"orient": "top", "values": [1950,1960,1970,1980,1990,2000], "labels": false, "title": null}},
    "y": {"field": "v", "type": "quantitative", "scale": {"domain": [204, 597], "nice": false, "zero": false}, "axis": {"orient": "right", "values": [250, 450], "labels": false, "title": null}}
   }},
  {"mark": {"type": "line", "opacity": 0},
   "encoding": {
    "x": {"field": "year", "type": "quantitative", "scale": {"domain": [1948, 2009], "nice": false, "zero": false}, "axis": null},
    "y": {"field": "v", "type": "quantitative", "scale": {"domain": [204, 597], "nice": false, "zero": false}, "axis": {"orient": "left", "labels": false, "ticks": false, "title": "P", "titleFontSize": 15, "titleFontWeight": "bold", "titleFontStyle": "italic", "titleX": -35, "titleY": 110}}
   }}
 ],
 "resolve": {"axis": {"x": "independent", "y": "independent"}}
},
{
 "width": 395, "height": 146,
 "data": {"name": "T"},
 "transform": [{"fold": ["W","B","U","E"], "as": ["series","v"]}],
 "layer": [
  {"mark": {"type": "line", "strokeWidth": 3},
   "encoding": {
    "x": {"field": "year", "type": "quantitative", "scale": {"domain": [1948, 2009], "nice": false, "zero": false}, "axis": {"values": [1950,1960,1970,1980,1990,2000], "labels": false, "title": null}},
    "y": {"field": "v", "type": "quantitative", "scale": {"domain": [-6.1, 7.9], "nice": false, "zero": false}, "axis": {"values": [-4, -1, 2, 5], "labelExpr": "'' + datum.value", "title": "(°C)", "titleX": -42, "titleY": 81.5}},
    "color": {"field": "series", "type": "nominal", "scale": {"domain": ["W","B","U","E"], "range": ["#ff00ff","#0000ff","#00ff00","#000000"]}},
    "strokeDash": {"field": "series", "type": "nominal", "scale": {"domain": ["W","B","U","E"], "range": [[1,0],[1,0],[1,0],[8,3.5]]}}
   }},
  {"mark": {"type": "line", "opacity": 0},
   "encoding": {
    "x": {"field": "year", "type": "quantitative", "scale": {"domain": [1948, 2009], "nice": false, "zero": false}, "axis": {"orient": "top", "values": [1950,1960,1970,1980,1990,2000], "labels": false, "title": null}},
    "y": {"field": "v", "type": "quantitative", "scale": {"domain": [-6.1, 7.9], "nice": false, "zero": false}, "axis": {"orient": "right", "values": [-4, -1, 2, 5], "labels": false, "title": null}}
   }},
  {"mark": {"type": "line", "opacity": 0},
   "encoding": {
    "x": {"field": "year", "type": "quantitative", "scale": {"domain": [1948, 2009], "nice": false, "zero": false}, "axis": null},
    "y": {"field": "v", "type": "quantitative", "scale": {"domain": [-6.1, 7.9], "nice": false, "zero": false}, "axis": {"orient": "left", "labels": false, "ticks": false, "title": "T", "titleFontSize": 15, "titleFontWeight": "bold", "titleFontStyle": "italic", "titleX": -42, "titleY": 95}}
   }}
 ],
 "resolve": {"axis": {"x": "independent", "y": "independent"}}
},
{
 "width": 394, "height": 146,
 "data": {"name": "VPD"},
 "transform": [{"fold": ["W","B","U","E"], "as": ["series","v"]}],
 "layer": [
  {"mark": {"type": "line", "strokeWidth": 3},
   "encoding": {
    "x": {"field": "year", "type": "quantitative", "scale": {"domain": [1948, 2009], "nice": false, "zero": false}, "axis": {"values": [1950,1960,1970,1980,1990,2000], "labels": false, "title": null}},
    "y": {"field": "v", "type": "quantitative", "scale": {"domain": [1, 7.02], "nice": false, "zero": false}, "axis": {"values": [2, 4, 6], "title": "(hpa)", "titleX": -35, "titleY": 72}},
    "color": {"field": "series", "type": "nominal", "scale": {"domain": ["W","B","U","E"], "range": ["#ff00ff","#0000ff","#00ff00","#000000"]}},
    "strokeDash": {"field": "series", "type": "nominal", "scale": {"domain": ["W","B","U","E"], "range": [[1,0],[1,0],[1,0],[8,3.5]]}}
   }},
  {"mark": {"type": "line", "opacity": 0},
   "encoding": {
    "x": {"field": "year", "type": "quantitative", "scale": {"domain": [1948, 2009], "nice": false, "zero": false}, "axis": {"orient": "top", "values": [1950,1960,1970,1980,1990,2000], "labels": false, "title": null}},
    "y": {"field": "v", "type": "quantitative", "scale": {"domain": [1, 7.02], "nice": false, "zero": false}, "axis": {"orient": "right", "values": [2, 4, 6], "labels": false, "title": null}}
   }},
  {"mark": {"type": "line", "opacity": 0},
   "encoding": {
    "x": {"field": "year", "type": "quantitative", "scale": {"domain": [1948, 2009], "nice": false, "zero": false}, "axis": null},
    "y": {"field": "v", "type": "quantitative", "scale": {"domain": [1, 7.02], "nice": false, "zero": false}, "axis": {"orient": "left", "labels": false, "ticks": false, "title": "VPD", "titleFontSize": 15, "titleFontWeight": "bold", "titleFontStyle": "italic", "titleX": -35, "titleY": 107}}
   }}
 ],
 "resolve": {"axis": {"x": "independent", "y": "independent"}}
},
{
 "width": 395, "height": 146,
 "data": {"name": "u"},
 "transform": [{"fold": ["W","B","U","E"], "as": ["series","v"]}],
 "layer": [
  {"mark": {"type": "line", "strokeWidth": 3},
   "encoding": {
    "x": {"field": "year", "type": "quantitative", "scale": {"domain": [1948, 2009], "nice": false, "zero": false}, "axis": {"values": [1950,1960,1970,1980,1990,2000], "format": "d", "title": "year"}},
    "y": {"field": "v", "type": "quantitative", "scale": {"domain": [3.205, 3.693], "nice": false, "zero": false}, "axis": {"values": [3.3, 3.4, 3.5, 3.6], "format": ".1f", "title": "(m s⁻¹)", "titleX": -42, "titleY": 88}},
    "color": {"field": "series", "type": "nominal", "scale": {"domain": ["W","B","U","E"], "range": ["#ff00ff","#0000ff","#00ff00","#000000"]}},
    "strokeDash": {"field": "series", "type": "nominal", "scale": {"domain": ["W","B","U","E"], "range": [[1,0],[1,0],[1,0],[8,3.5]]}}
   }},
  {"mark": {"type": "line", "opacity": 0},
   "encoding": {
    "x": {"field": "year", "type": "quantitative", "scale": {"domain": [1948, 2009], "nice": false, "zero": false}, "axis": {"orient": "top", "values": [1950,1960,1970,1980,1990,2000], "labels": false, "title": null}},
    "y": {"field": "v", "type": "quantitative", "scale": {"domain": [3.205, 3.693], "nice": false, "zero": false}, "axis": {"orient": "right", "values": [3.3, 3.4, 3.5, 3.6], "labels": false, "title": null}}
   }},
  {"mark": {"type": "line", "opacity": 0},
   "encoding": {
    "x": {"field": "year", "type": "quantitative", "scale": {"domain": [1948, 2009], "nice": false, "zero": false}, "axis": null},
    "y": {"field": "v", "type": "quantitative", "scale": {"domain": [3.205, 3.693], "nice": false, "zero": false}, "axis": {"orient": "left", "labels": false, "ticks": false, "title": "u", "titleFontSize": 15, "titleFontWeight": "bold", "titleFontStyle": "italic", "titleX": -42, "titleY": 101.5}}
   }}
 ],
 "resolve": {"axis": {"x": "independent", "y": "independent"}}
},
{
 "width": 394, "height": 146,
 "data": {"name": "R"},
 "transform": [{"fold": ["W","B","U","E"], "as": ["series","v"]}],
 "layer": [
  {"mark": {"type": "line", "strokeWidth": 3},
   "encoding": {
    "x": {"field": "year", "type": "quantitative", "scale": {"domain": [1948, 2009], "nice": false, "zero": false}, "axis": {"values": [1950,1960,1970,1980,1990,2000], "format": "d", "title": "year"}},
    "y": {"field": "v", "type": "quantitative", "scale": {"domain": [90.6, 159.7], "nice": false, "zero": false}, "axis": {"values": [95, 115, 135, 155], "title": "(W m⁻²)", "titleX": -35, "titleY": 90}},
    "color": {"field": "series", "type": "nominal", "scale": {"domain": ["W","B","U","E"], "range": ["#ff00ff","#0000ff","#00ff00","#000000"]}},
    "strokeDash": {"field": "series", "type": "nominal", "scale": {"domain": ["W","B","U","E"], "range": [[1,0],[1,0],[1,0],[8,3.5]]}}
   }},
  {"mark": {"type": "line", "opacity": 0},
   "encoding": {
    "x": {"field": "year", "type": "quantitative", "scale": {"domain": [1948, 2009], "nice": false, "zero": false}, "axis": {"orient": "top", "values": [1950,1960,1970,1980,1990,2000], "labels": false, "title": null}},
    "y": {"field": "v", "type": "quantitative", "scale": {"domain": [90.6, 159.7], "nice": false, "zero": false}, "axis": {"orient": "right", "values": [95, 115, 135, 155], "labels": false, "title": null}}
   }},
  {"mark": {"type": "line", "opacity": 0},
   "encoding": {
    "x": {"field": "year", "type": "quantitative", "scale": {"domain": [1948, 2009], "nice": false, "zero": false}, "axis": null},
    "y": {"field": "v", "type": "quantitative", "scale": {"domain": [90.6, 159.7], "nice": false, "zero": false}, "axis": {"orient": "left", "labels": false, "ticks": false, "title": "R", "titleFontSize": 15, "titleFontWeight": "bold", "titleFontStyle": "italic", "titleX": -35, "titleY": 105}}
   }}
 ],
 "resolve": {"axis": {"x": "independent", "y": "independent"}}
}
]
}
